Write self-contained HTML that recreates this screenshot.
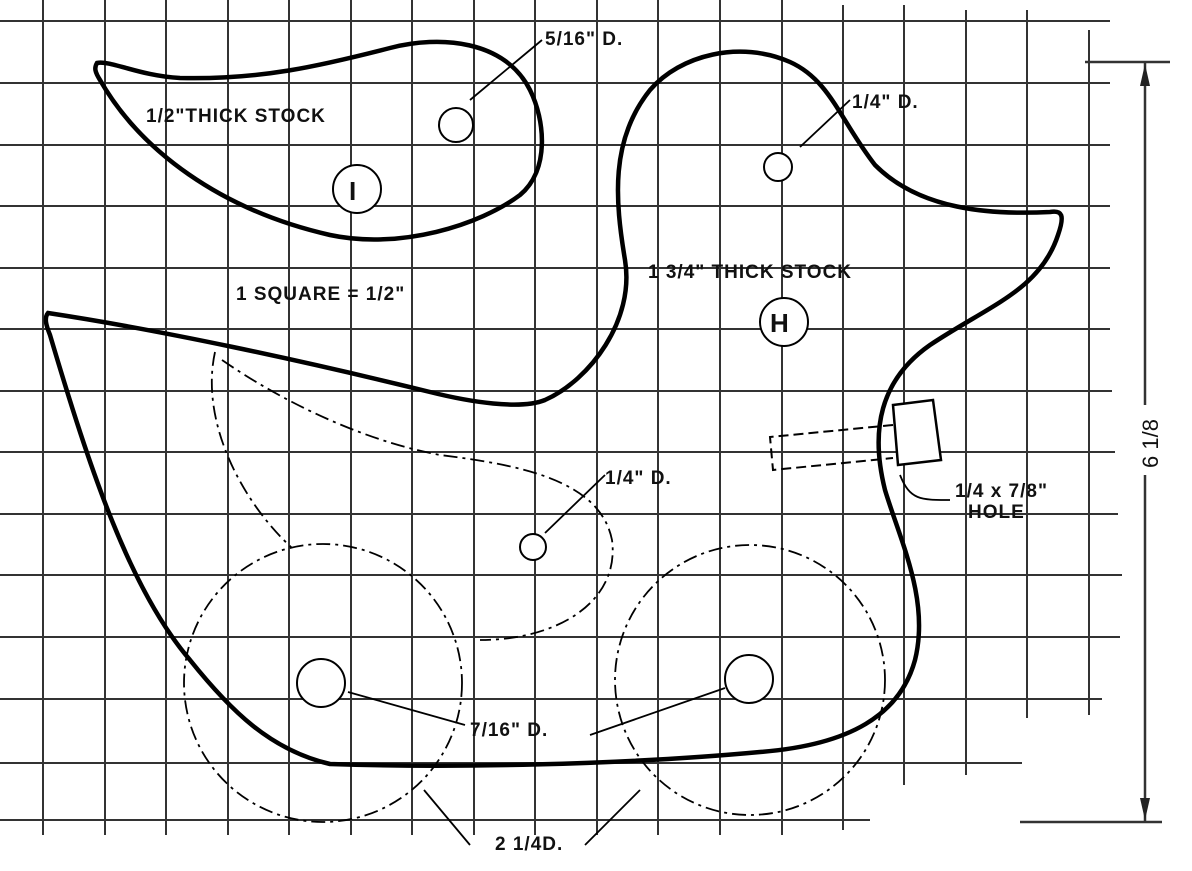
<!DOCTYPE html>
<html><head><meta charset="utf-8"><style>
html,body{margin:0;padding:0;background:#fff;}
svg{display:block}
text{font-family:"Liberation Sans",sans-serif;fill:#111;}
</style></head><body>
<svg width="1192" height="871" viewBox="0 0 1192 871" xmlns="http://www.w3.org/2000/svg">
<g stroke="#333" stroke-width="2" fill="none">
<line x1="0" y1="21" x2="1110" y2="21"/>
<line x1="0" y1="83" x2="1110" y2="83"/>
<line x1="0" y1="145" x2="1110" y2="145"/>
<line x1="0" y1="206" x2="1110" y2="206"/>
<line x1="0" y1="268" x2="1110" y2="268"/>
<line x1="0" y1="329" x2="1110" y2="329"/>
<line x1="0" y1="391" x2="1112" y2="391"/>
<line x1="0" y1="452" x2="1115" y2="452"/>
<line x1="0" y1="514" x2="1118" y2="514"/>
<line x1="0" y1="575" x2="1122" y2="575"/>
<line x1="0" y1="637" x2="1120" y2="637"/>
<line x1="0" y1="699" x2="1102" y2="699"/>
<line x1="0" y1="763" x2="1022" y2="763"/>
<line x1="0" y1="820" x2="870" y2="820"/>
<line x1="43" y1="0" x2="43" y2="835"/>
<line x1="105" y1="0" x2="105" y2="835"/>
<line x1="166" y1="0" x2="166" y2="835"/>
<line x1="228" y1="0" x2="228" y2="835"/>
<line x1="289" y1="0" x2="289" y2="835"/>
<line x1="351" y1="0" x2="351" y2="835"/>
<line x1="412" y1="0" x2="412" y2="835"/>
<line x1="474" y1="0" x2="474" y2="835"/>
<line x1="535" y1="0" x2="535" y2="835"/>
<line x1="597" y1="0" x2="597" y2="835"/>
<line x1="658" y1="0" x2="658" y2="835"/>
<line x1="720" y1="0" x2="720" y2="835"/>
<line x1="782" y1="0" x2="782" y2="835"/>
<line x1="843" y1="5" x2="843" y2="830"/>
<line x1="904" y1="5" x2="904" y2="785"/>
<line x1="966" y1="10" x2="966" y2="775"/>
<line x1="1027" y1="10" x2="1027" y2="718"/>
<line x1="1089" y1="30" x2="1089" y2="715"/>
</g>
<g stroke="#333" stroke-width="2.5" fill="none">
<line x1="1145" y1="62" x2="1145" y2="822"/>
<line x1="1085" y1="62" x2="1170" y2="62"/>
<line x1="1020" y1="822" x2="1162" y2="822"/>
</g>
<polygon points="1140,798 1150,798 1145,820" fill="#222"/>
<polygon points="1140,86 1150,86 1145,64" fill="#222"/>
<rect x="1137" y="405" width="22" height="70" fill="#fff"/>
<text x="0" y="0" font-size="22" transform="translate(1158,468) rotate(-90)">6 1/8</text>

<g fill="none" stroke="#000" stroke-width="4.5">
<path d="M97,63 C94,68 95,72 100,80 C140,150 220,210 330,235 C400,250 480,225 520,195 C550,170 545,120 530,90 C505,40 440,35 390,48 C320,66 260,80 180,78 C140,76 110,60 97,63 Z"/>
<path d="M48,313 C44,318 46,325 50,335 C90,470 130,590 190,660 C230,710 270,750 330,764 C450,768 620,765 760,752 C850,745 900,715 915,660 C930,600 900,540 885,490 C870,430 880,380 930,345 C990,305 1040,290 1058,235 C1065,215 1062,210 1050,212 C990,215 920,210 875,165 C840,120 830,80 790,62 C740,40 680,55 650,90 C610,140 615,200 625,260 C635,320 590,380 545,400 C520,410 470,402 430,392 C300,360 160,330 48,313 Z"/>
</g>
<g stroke="#000" stroke-width="2" fill="#fff">
<circle cx="456" cy="125" r="17"/>
<circle cx="778" cy="167" r="14"/>
<circle cx="533" cy="547" r="13"/>
<circle cx="357" cy="189" r="24"/>
<circle cx="784" cy="322" r="24"/>
</g>
<text x="349" y="200" font-size="26" font-weight="bold">I</text>
<text x="770" y="332" font-size="26" font-weight="bold">H</text>
<g stroke="#000" stroke-width="1.8" fill="none" stroke-dasharray="14,5,3,5">
<path d="M215,352 C200,420 240,500 292,548"/>
<path d="M222,360 C280,400 360,440 440,455 C520,465 600,480 612,540 C620,600 560,640 480,640"/>
<circle cx="323" cy="683" r="139"/>
<circle cx="750" cy="680" r="135"/>
</g>
<g stroke="#000" stroke-width="2" fill="#fff">
<circle cx="321" cy="683" r="24"/>
<circle cx="749" cy="679" r="24"/>
</g>
<g stroke="#000" stroke-width="2.5" fill="#fff">
<polygon points="893,405 933,400 941,460 898,465"/>
</g>
<g stroke="#000" stroke-width="2" fill="none" stroke-dasharray="10,5">
<path d="M893,425 L770,437 L773,470 L893,458"/>
</g>
<g stroke="#000" stroke-width="1.8" fill="none">
<path d="M900,475 C910,500 920,500 950,500"/>
<path d="M542,40 L470,100"/>
<path d="M850,100 L800,147"/>
<path d="M605,475 L545,533"/>
<path d="M465,725 L348,692"/>
<path d="M590,735 L725,688"/>
<path d="M470,845 L424,790"/>
<path d="M585,845 L640,790"/>
</g>
<g font-size="19" font-weight="bold" letter-spacing="1">
<text x="545" y="45">5/16" D.</text>
<text x="852" y="108">1/4" D.</text>
<text x="605" y="484">1/4" D.</text>
<text x="146" y="122">1/2"THICK STOCK</text>
<text x="648" y="278">1 3/4" THICK STOCK</text>
<text x="236" y="300">1 SQUARE = 1/2"</text>
<text x="955" y="497">1/4 x 7/8"</text>
<text x="968" y="518">HOLE</text>
<text x="470" y="736">7/16" D.</text>
<text x="495" y="850">2 1/4D.</text>
</g>
</svg>
</body></html>
